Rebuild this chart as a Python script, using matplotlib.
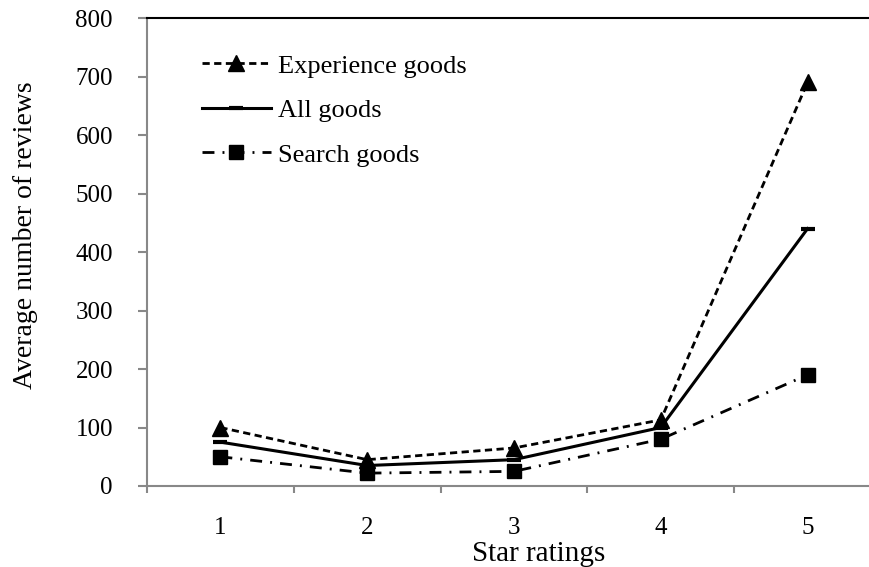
import matplotlib.pyplot as plt
import numpy as np

plt.rcParams['font.family'] = ['Liberation Serif', 'DejaVu Serif']

ratings = ['1', '2', '3', '4', '5']
experience = [100, 45, 65, 113, 690]
all_goods = [75, 35, 45, 100, 440]
search = [50, 22, 25, 80, 190]

fig = plt.figure(figsize=(8.69, 5.67), dpi=100)
ax = fig.add_axes([147 / 869, 81 / 567, 734 / 869, 468 / 567])

x = np.arange(len(ratings))
ax.plot(x, experience, color='black', lw=2, ls=(0, (2.6, 1.6)),
        marker='^', ms=11, label='Experience goods', clip_on=False)
ax.plot(x, all_goods, color='black', lw=2.2, ls='-',
        marker='_', ms=10, mew=3, label='All goods', clip_on=False)
ax.plot(x, search, color='black', lw=2, ls=(0, (4.3, 2.9, 0.7, 2.9)),
        marker='s', ms=10.5, label='Search goods', clip_on=False)

ax.set_xlim(-0.5, 4.5)
ax.set_ylim(0, 800)
ax.set_yticks(range(0, 801, 100))
ax.set_xticks(x)
ax.set_xticklabels(ratings)
ax.set_xticks(np.arange(-0.5, 5, 1), minor=True)
ax.tick_params(axis='x', which='major', length=0, pad=22, labelsize=18)
ax.tick_params(axis='x', which='minor', length=5, width=1.5, color='#888888',
               direction='out')
ax.tick_params(axis='y', length=6.5, width=1.5, color='#888888', direction='out',
               labelsize=18, pad=18)

for side in ['left', 'bottom']:
    ax.spines[side].set_color('#888888')
    ax.spines[side].set_linewidth(1.5)
ax.spines['top'].set_color('black')
ax.spines['top'].set_linewidth(1.5)
ax.spines['right'].set_visible(False)

ax.set_ylabel('Average number of reviews', fontsize=20)
ax.yaxis.set_label_coords(-0.148, 0.536)
ax.set_xlabel('Star ratings', fontsize=21)
ax.xaxis.set_label_coords(0.533, -0.118)

ax.legend(loc='upper left', bbox_to_anchor=(0.075, 0.923), frameon=False,
          fontsize=19, handlelength=2.6, labelspacing=0.8, handletextpad=0.27,
          borderpad=0, borderaxespad=0)

fig.savefig('out.png', dpi=100)
